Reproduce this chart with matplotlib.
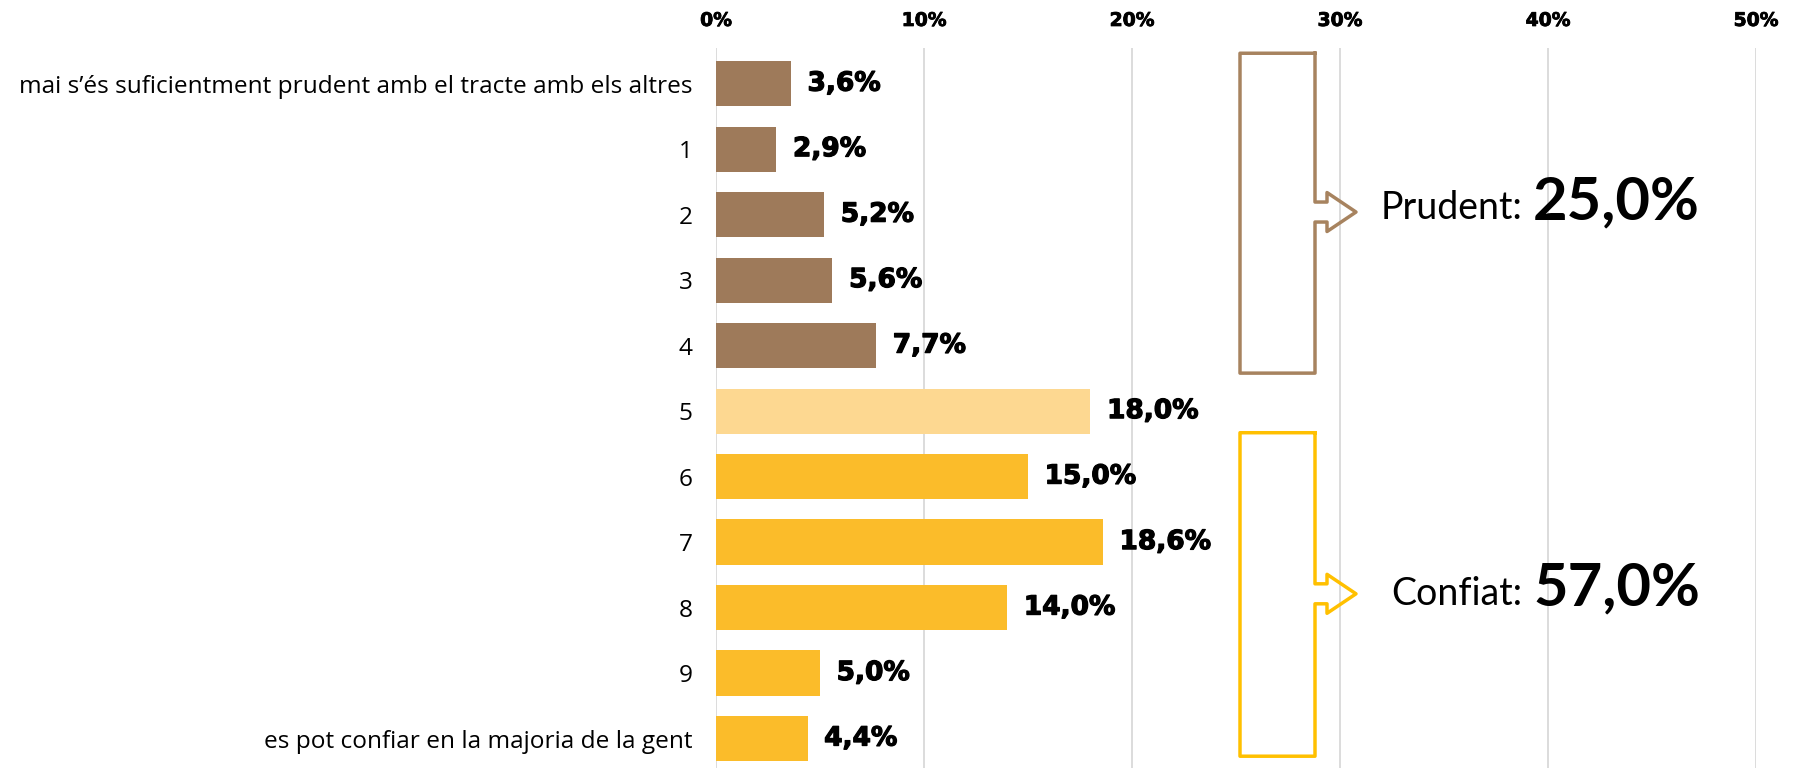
import matplotlib
matplotlib.use("Agg")
import matplotlib.pyplot as plt
import matplotlib.patheffects as pe
import numpy as np

categories = ["mai s\u2019\u00e9s suficientment prudent amb el tracte amb els altres",
              "1", "2", "3", "4", "5", "6", "7", "8", "9",
              "es pot confiar en la majoria de la gent"]
values = [3.6, 2.9, 5.2, 5.6, 7.7, 18.0, 15.0, 18.6, 14.0, 5.0, 4.4]
value_labels = ["3,6%", "2,9%", "5,2%", "5,6%", "7,7%", "18,0%", "15,0%",
                "18,6%", "14,0%", "5,0%", "4,4%"]
groups = ["prudent"] * 5 + ["neutral"] + ["confiat"] * 5
x_ticks = [0, 10, 20, 30, 40, 50]
x_tick_labels = ["0%", "10%", "20%", "30%", "40%", "50%"]
summary_names = ["Prudent:", "Confiat:"]
summary_values = ["25,0%", "57,0%"]

bar_colors = {"prudent": "#9E7A5A", "neutral": "#FDD891", "confiat": "#FBBC2A"}
bracket_colors = ["#A7835F", "#FFC000"]

plt.rcParams['font.family'] = ['Lato', 'DejaVu Sans']

W, H = 1798, 768
fig = plt.figure(figsize=(W / 100, H / 100), dpi=100)
ax = fig.add_axes([716 / W, 0, 1040 / W, 720 / H])

y = np.arange(len(categories))
ax.barh(y, values, height=0.69, color=[bar_colors[g] for g in groups], zorder=3)

ax.set_xlim(0, 50)
ax.set_ylim(len(categories) - 1 + 0.45, -0.545)

heavy_small = [pe.withStroke(linewidth=0.6, foreground='black')]
heavy = [pe.withStroke(linewidth=0.9, foreground='black')]

ax.set_xticks(x_ticks)
ax.set_xticklabels(x_tick_labels, fontsize=13.5, fontweight='bold',
                   family=['DejaVu Sans'])
ax.xaxis.tick_top()
ax.tick_params(axis='x', length=0, pad=13)
ax.set_yticks(y)
ax.set_yticklabels(categories, fontsize=17.6, family=['Open Sans', 'DejaVu Sans'])
ax.tick_params(axis='y', length=0, pad=17)
for t in ax.get_xticklabels():
    t.set_color("black")
    t.set_path_effects(heavy_small)

for s in ax.spines.values():
    s.set_visible(False)
for xv in x_ticks:
    ax.axvline(xv, color="#D9D9D9", lw=1.3, zorder=1)

for yi, v, lab in zip(y, values, value_labels):
    ax.text(v + 0.8, yi, lab, va='center', ha='left', fontsize=19,
            fontweight='bold', family=['DejaVu Sans'], color='black', zorder=4,
            path_effects=heavy)

# brackets with arrows
px_x = 1040 / 50.0   # pixels per percent
px_y = 720 / (len(categories) - 1 + 0.45 + 0.545)  # pixels per category

def bracket(y_top, y_bot, y_tip, color):
    xl, xr = 1240 / px_x - 716 / px_x, 1315 / px_x - 716 / px_x
    shaft = 12 / px_x
    head = 29 / px_x
    sh = 10 / px_y
    hh = 19.5 / px_y
    xs = [xr, xl, xl, xr, xr, xr + shaft, xr + shaft, xr + shaft + head,
          xr + shaft, xr + shaft, xr, xr]
    ys = [y_top, y_top, y_bot, y_bot, y_tip + sh, y_tip + sh, y_tip + hh,
          y_tip, y_tip - hh, y_tip - sh, y_tip - sh, y_top]
    ax.plot(xs, ys, color=color, lw=2.5, solid_joinstyle='round',
            clip_on=False, zorder=5)

bracket(-0.465, 4.42, 1.96, bracket_colors[0])
bracket(5.33, 10.27, 7.79, bracket_colors[1])

# summary texts
for name, val, yy in zip(summary_names, summary_values, [219, 605]):
    fy = 1 - yy / H
    fig.text(1522 / W, fy, name, ha='right', va='baseline', fontsize=27, color='black')
    fig.text(1533 / W, fy, val, ha='left', va='baseline', fontsize=43,
             fontweight='bold', color='black')

fig.savefig("out.png", dpi=100, facecolor='white')
